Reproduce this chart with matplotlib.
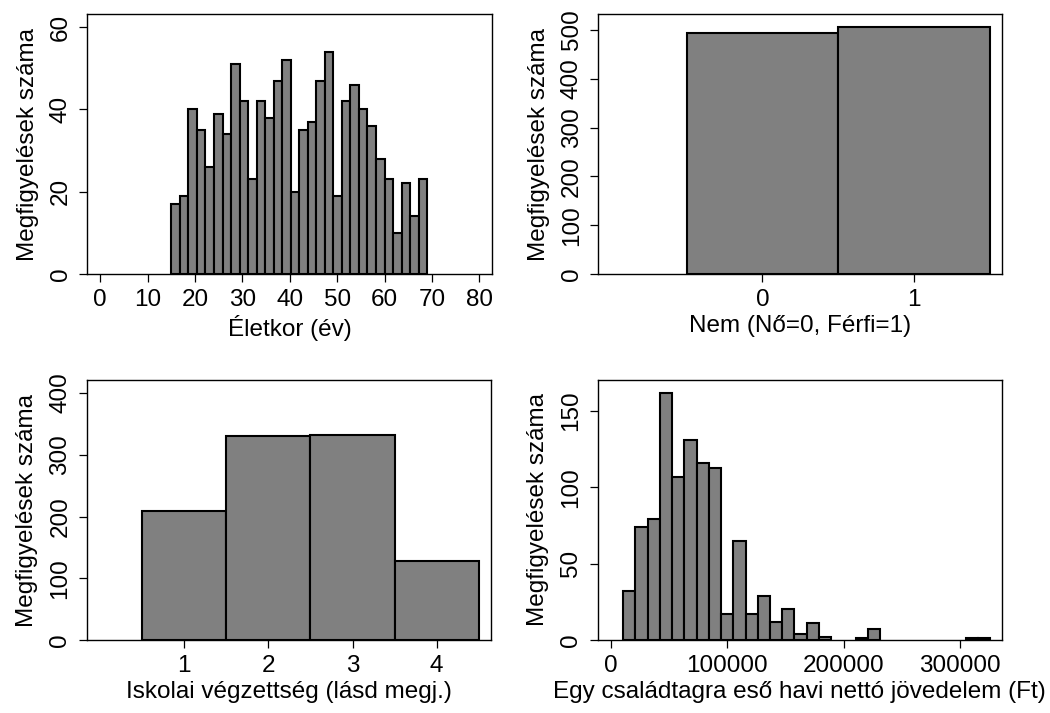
import numpy as np
import matplotlib
matplotlib.use("Agg")
import matplotlib.pyplot as plt

plt.rcParams['font.family'] = ['Liberation Sans', 'DejaVu Sans']
plt.rcParams['font.size'] = 17.5

# --- data ---
# age histogram: 30 bins from 15 to 69
age_start = 15.0
age_width = 1.8
age_counts = [17, 19, 40, 35, 26, 39, 34, 51, 42, 23, 42, 38, 47, 52, 20,
              35, 37, 47, 54, 19, 42, 46, 40, 36, 28, 23, 10, 22, 14, 23]

sex_values = [0, 1]
sex_counts = [493, 507]

edu_values = [1, 2, 3, 4]
edu_counts = [209, 331, 332, 128]

# income histogram: 30 bins
inc_start = 10800.0
inc_width = 10500.0
inc_counts = [32, 74, 79, 162, 107, 131, 116, 113, 17, 65, 17, 29, 12, 20, 4,
              11, 2, 0, 0, 1, 7, 0, 0, 0, 0, 0, 0, 0, 1, 1]

ylab = 'Megfigyelések száma'
bar_fc = '#808080'
bar_lw = 1.5


def style(ax):
    for sp in ax.spines.values():
        sp.set_linewidth(1.0)
    ax.tick_params(direction='out', length=6, width=0.9, pad=5)
    plt.setp(ax.get_yticklabels(), rotation=90, va='center')
    ax.set_ylabel(ylab, labelpad=8)


def hist_bars(ax, start, width, counts):
    counts = np.asarray(counts)
    left = start + width * np.arange(len(counts))
    keep = counts > 0   # empty bins draw nothing
    ax.bar(left[keep], counts[keep], width=width, align='edge', color=bar_fc,
           edgecolor='black', linewidth=bar_lw)


fig = plt.figure(figsize=(10.5, 7.13), dpi=100)
ax1 = fig.add_axes([0.0829, 0.6157, 0.3857, 0.3642])
ax2 = fig.add_axes([0.5695, 0.6157, 0.3845, 0.3642])
ax3 = fig.add_axes([0.0825, 0.1024, 0.3852, 0.3640])
ax4 = fig.add_axes([0.5692, 0.1024, 0.3849, 0.3649])

# panel 1: age
hist_bars(ax1, age_start, age_width, age_counts)
ax1.set_xlim(-2.8, 82.7)
ax1.set_ylim(0, 63.1)
ax1.set_xticks(np.arange(0, 81, 10))
ax1.set_yticks([0, 20, 40, 60])
ax1.set_xlabel('Életkor (év)', labelpad=3)
style(ax1)

# panel 2: sex
ax2.bar(sex_values, sex_counts, width=1.0, color=bar_fc,
        edgecolor='black', linewidth=bar_lw)
ax2.set_xlim(-1.086, 1.58)
ax2.set_ylim(0, 532)
ax2.set_xticks(sex_values)
ax2.set_yticks(np.arange(0, 501, 100))
ax2.set_xlabel('Nem (Nő=0, Férfi=1)', labelpad=3)
style(ax2)

# panel 3: education
ax3.bar(edu_values, edu_counts, width=1.0, color=bar_fc,
        edgecolor='black', linewidth=bar_lw)
ax3.set_xlim(-0.156, 4.645)
ax3.set_ylim(0, 420.5)
ax3.set_xticks(edu_values)
ax3.set_yticks(np.arange(0, 401, 100))
ax3.set_xlabel('Iskolai végzettség (lásd megj.)', labelpad=3)
style(ax3)

# panel 4: income
hist_bars(ax4, inc_start, inc_width, inc_counts)
ax4.set_xlim(-11165, 335800)
ax4.set_ylim(0, 170.5)
ax4.set_xticks([0, 100000, 200000, 300000])
ax4.set_xticklabels(['0', '100000', '200000', '300000'])
ax4.set_yticks([0, 50, 100, 150])
ax4.set_xlabel('Egy családtagra eső havi nettó jövedelem (Ft)', labelpad=3)
style(ax4)

fig.savefig('out.png', dpi=100)
